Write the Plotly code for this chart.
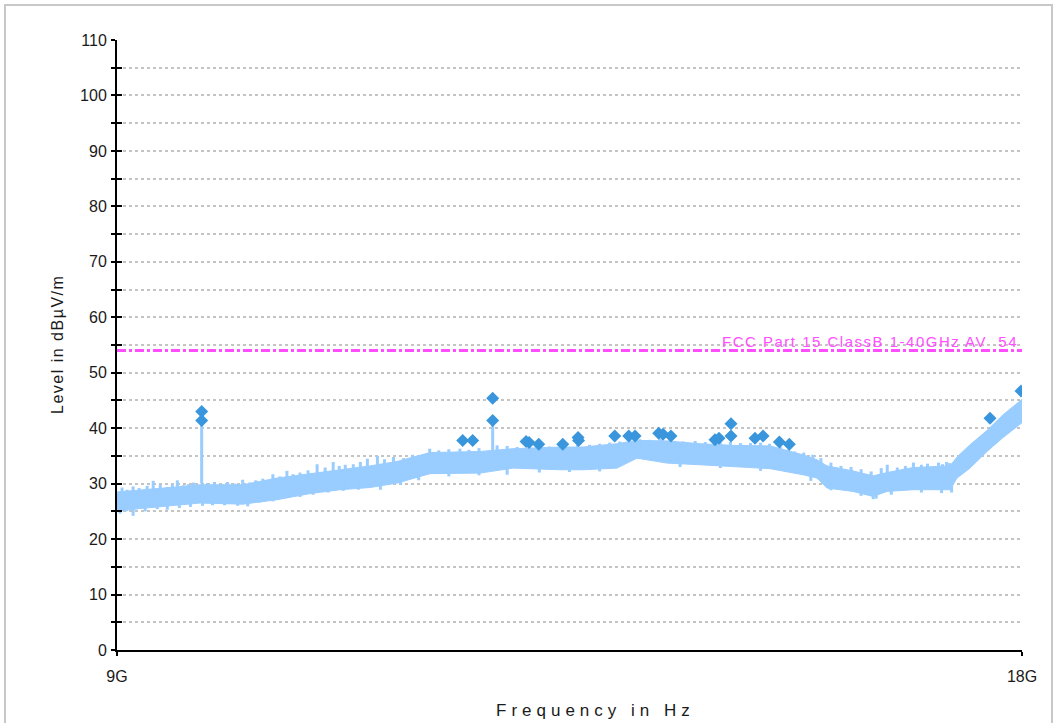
import plotly.graph_objects as go

# ---------------- data ----------------
band_freq_ghz = [9.000, 9.229, 9.527, 9.825, 10.253, 10.591, 10.919, 11.218, 11.516, 11.785,
                 12.113, 12.610, 12.938, 13.406, 13.634, 13.972, 14.171, 14.470, 14.798, 15.126,
                 15.494, 15.822, 15.961, 16.061, 16.319, 16.518, 16.658, 16.916, 17.284, 17.354,
                 17.483, 17.652, 17.811, 18.000]
band_upper = [28.5, 28.8, 29.3, 29.8, 29.8, 31.0, 31.8, 32.6, 33.2, 34.0,
              35.6, 35.8, 36.3, 36.6, 36.6, 37.2, 37.8, 37.7, 37.2, 36.9,
              36.8, 35.2, 34.3, 33.2, 32.3, 31.4, 32.0, 32.9, 33.2, 34.8,
              37.0, 39.6, 42.4, 45.2]
band_lower = [25.0, 25.5, 26.0, 26.5, 26.3, 27.1, 28.2, 28.9, 29.3, 30.1,
              31.8, 31.9, 32.8, 32.5, 32.5, 32.8, 34.6, 33.7, 33.4, 33.1,
              32.7, 31.6, 31.0, 29.2, 28.6, 27.7, 28.6, 28.9, 28.9, 31.0,
              32.8, 35.8, 38.3, 41.0]

# noise spikes sticking out of the top of the band
spike_freq_ghz = [9.05, 9.10, 9.16, 9.22, 9.30, 9.36, 9.43, 9.50, 9.55, 9.60,
                  9.66, 9.71, 9.76, 9.90, 9.97, 10.04, 10.10, 10.17, 10.25, 10.32,
                  10.38, 10.45, 10.55, 10.62, 10.69, 10.75, 10.82, 10.90, 10.99, 11.07,
                  11.15, 11.21, 11.27, 11.35, 11.42, 11.49, 11.59, 11.66, 11.75, 11.85,
                  11.94, 12.02, 12.11, 12.20, 12.30, 12.41, 12.50, 12.60, 12.78, 12.88,
                  12.98, 13.10, 13.21, 13.30, 13.45, 13.58, 13.70, 13.80, 13.90, 14.00,
                  14.10, 14.20, 14.30, 14.40, 14.50, 14.63, 14.75, 14.85, 15.00, 15.10,
                  15.20, 15.30, 15.40, 15.49, 15.60, 15.68, 15.74, 15.83, 15.92, 16.00,
                  16.10, 16.20, 16.30, 16.40, 16.50, 16.60, 16.66, 16.76, 16.84, 16.92,
                  17.00, 17.06, 17.12, 17.17, 17.21, 17.25, 17.28]
spike_top = [29.3, 28.9, 29.5, 29.2, 29.6, 30.5, 29.8, 29.4, 29.9, 30.6,
             29.7, 29.9, 30.2, 30.1, 30.3, 29.9, 30.3, 30.0, 30.7, 30.2,
             30.6, 30.9, 31.7, 31.3, 32.3, 31.7, 32.0, 32.4, 33.5, 32.9,
             33.9, 33.2, 33.4, 33.5, 33.9, 34.5, 35.0, 34.4, 34.8, 34.6,
             35.2, 35.0, 36.3, 36.0, 36.2, 36.3, 36.1, 36.4, 36.9, 36.8,
             36.6, 36.8, 36.9, 36.7, 36.9, 37.0, 37.0, 37.2, 37.4, 37.6,
             37.8, 38.0, 37.9, 38.1, 37.9, 37.6, 37.7, 37.5, 37.4, 37.5,
             37.3, 37.3, 37.4, 37.2, 36.6, 36.2, 35.8, 35.6, 35.2, 34.6,
             33.8, 33.2, 33.0, 32.6, 32.2, 32.8, 33.4, 32.9, 33.2, 33.8,
             33.4, 33.6, 32.6, 33.8, 33.5, 33.9, 33.7]
spike_base = [27.5, 27.5, 27.8, 27.8, 28.0, 28.2, 28.2, 28.3, 28.4, 28.5,
              28.6, 28.7, 28.8, 28.9, 28.9, 28.9, 28.9, 28.9, 28.9, 29.0,
              29.3, 29.5, 30.0, 30.2, 30.5, 30.7, 30.9, 31.0, 31.3, 31.5,
              31.7, 31.8, 32.0, 32.2, 32.4, 32.5, 32.8, 33.0, 33.2, 33.4,
              33.8, 34.2, 34.5, 34.7, 34.8, 34.8, 34.9, 35.0, 35.2, 35.3,
              35.4, 35.5, 35.6, 35.6, 35.7, 35.7, 35.7, 35.9, 36.1, 36.3,
              36.6, 36.7, 36.8, 36.8, 36.6, 36.4, 36.2, 36.1, 36.0, 35.9,
              35.8, 35.8, 35.8, 35.7, 35.2, 34.7, 34.4, 34.1, 33.4, 32.6,
              31.9, 31.4, 31.2, 30.8, 30.5, 30.8, 31.1, 31.5, 31.8, 32.0,
              32.1, 32.2, 32.2, 32.2, 32.2, 32.3, 32.3]

# noise dips below the bottom of the band
dip_freq_ghz = [9.03, 9.09, 9.16, 9.28, 9.40, 9.50, 9.62, 9.73, 9.85, 9.95,
                10.07, 10.20, 10.30, 10.42, 10.55, 10.70, 10.82, 10.95, 11.10, 11.25,
                11.40, 11.62, 11.82, 12.00, 12.30, 12.60, 12.88, 13.20, 13.50, 13.80,
                14.60, 15.00, 15.40, 15.90, 16.10, 16.40, 16.52, 16.55, 16.70, 17.00,
                17.20, 17.30]
dip_bottom = [24.6, 25.0, 24.2, 25.0, 25.4, 25.3, 25.6, 25.8, 26.0, 26.1,
              26.1, 26.0, 25.9, 26.6, 26.8, 27.4, 27.6, 28.0, 28.4, 28.7,
              28.9, 28.9, 29.8, 30.6, 31.3, 31.5, 31.6, 32.0, 32.1, 32.2,
              33.0, 32.8, 32.3, 30.5, 28.8, 27.8, 27.2, 27.3, 28.0, 28.4,
              28.3, 28.4]
dip_top = [26.5, 26.8, 26.8, 27.0, 27.3, 27.5, 27.8, 28.0, 28.2, 28.2,
           28.2, 28.2, 28.3, 28.6, 29.0, 29.5, 29.8, 30.2, 30.6, 31.0,
           31.2, 31.3, 32.0, 32.8, 33.3, 33.5, 33.8, 34.0, 34.0, 34.2,
           35.0, 34.8, 34.5, 32.5, 31.0, 29.8, 29.3, 29.3, 30.0, 30.5,
           30.5, 30.5]

peak_freq_ghz = [9.842, 9.842, 12.438, 12.537, 12.736, 12.736, 13.068, 13.098, 13.194, 13.433,
                 13.585, 13.590, 13.950, 14.089, 14.152, 14.387, 14.430, 14.509, 14.947, 14.987,
                 15.106, 15.106, 15.345, 15.425, 15.587, 15.686, 17.682, 17.990]
peak_level = [43.0, 41.4, 37.8, 37.8, 45.4, 41.4, 37.6, 37.4, 37.1, 37.1,
              38.3, 37.8, 38.6, 38.6, 38.6, 39.1, 38.9, 38.6, 37.9, 38.2,
              40.8, 38.6, 38.2, 38.6, 37.5, 37.1, 41.8, 46.7]

stem_freq_ghz = [9.842, 12.736]
stem_base = [30.0, 36.0]
stem_top = [41.4, 41.4]

limit_value = 54
limit_label = "FCC Part 15 ClassB 1-40GHz AV  54"

x_tick_vals_ghz = [9, 18]
x_tick_text = ["9G", "18G"]
y_range = [0, 110]

# ---------------- figure ----------------
G = 1e9
BAND = "#99ccff"
MARK = "#3a96dc"
MAG = "#ff4dff"
TXT = "#1a1a1a"
FONT = "Liberation Sans, Arial, sans-serif"

fig = go.Figure()

fig.add_trace(go.Scatter(x=[f * G for f in band_freq_ghz], y=band_lower, mode="lines",
                         line=dict(color=BAND, width=1), hoverinfo="skip", showlegend=False))
fig.add_trace(go.Scatter(x=[f * G for f in band_freq_ghz], y=band_upper, mode="lines",
                         line=dict(color=BAND, width=1), fill="tonexty", fillcolor=BAND,
                         hoverinfo="skip", showlegend=False))

def segs(xs, y0s, y1s):
    X, Y = [], []
    for x, a, b in zip(xs, y0s, y1s):
        X += [x * G, x * G, None]
        Y += [a, b, None]
    return X, Y

sx, sy = segs(spike_freq_ghz, spike_base, spike_top)
fig.add_trace(go.Scatter(x=sx, y=sy, mode="lines", line=dict(color=BAND, width=3),
                         showlegend=False, hoverinfo="skip"))
dx, dy = segs(dip_freq_ghz, dip_top, dip_bottom)
fig.add_trace(go.Scatter(x=dx, y=dy, mode="lines", line=dict(color=BAND, width=3),
                         showlegend=False, hoverinfo="skip"))
tx, ty = segs(stem_freq_ghz, stem_base, stem_top)
fig.add_trace(go.Scatter(x=tx, y=ty, mode="lines", line=dict(color=BAND, width=3),
                         showlegend=False, hoverinfo="skip"))

fig.add_trace(go.Scatter(x=[band_freq_ghz[0] * G, band_freq_ghz[-1] * G], y=[limit_value, limit_value],
                         mode="lines", line=dict(color=MAG, width=3, dash="9px,3px,3px,3px"),
                         showlegend=False, hoverinfo="skip"))

fig.add_trace(go.Scatter(x=[f * G for f in peak_freq_ghz], y=peak_level, mode="markers",
                         marker=dict(symbol="diamond", size=10, color=MARK), showlegend=False))

W, H = 1057, 723
L, R, T, B = 117, W - 1022, 40, H - 650
pw, ph = W - L - R, H - T - B

grid = dict(showgrid=True, gridcolor="#c4c4c4", gridwidth=1.5, griddash="dot")
tickfont = dict(family=FONT, size=16, color=TXT)

fig.update_layout(
    width=W, height=H,
    margin=dict(l=L, r=R, t=T, b=B),
    paper_bgcolor="white", plot_bgcolor="white",
    font=dict(family=FONT, size=16, color=TXT),
    xaxis=dict(range=[9 * G, 18 * G], tickvals=[v * G for v in x_tick_vals_ghz], ticktext=x_tick_text,
               ticks="outside", ticklen=4, tickwidth=2, tickcolor="black", tickfont=tickfont,
               showline=True, linecolor="black", linewidth=2, zeroline=False,
               ticklabelstandoff=7, **grid),
    yaxis=dict(range=y_range, dtick=10, tick0=0, ticks="outside", ticklen=4, tickwidth=2,
               tickcolor="black", tickfont=tickfont, showline=True, linecolor="black", linewidth=2,
               zeroline=False, ticklabelstandoff=1,
               minor=dict(dtick=5, ticks="outside", ticklen=4, tickwidth=2, tickcolor="black",
                          showgrid=True, gridcolor="#c4c4c4", gridwidth=1.5, griddash="dot"),
               **grid),
    xaxis2=dict(overlaying="x", range=[9 * G, 18 * G], tickvals=[v * G for v in x_tick_vals_ghz],
                ticks="inside", ticklen=5, tickwidth=2, tickcolor="black", showticklabels=False,
                showgrid=False, zeroline=False, side="bottom"),
    yaxis2=dict(overlaying="y", range=y_range, dtick=10, tick0=0, ticks="inside", ticklen=5,
                tickwidth=2, tickcolor="black", showticklabels=False, showgrid=False,
                zeroline=False, side="left",
                minor=dict(dtick=5, ticks="inside", ticklen=5, tickwidth=2, tickcolor="black")),
)

fig.add_trace(go.Scatter(x=[9 * G], y=[0], xaxis="x2", yaxis="y2", mode="markers",
                         marker=dict(opacity=0), showlegend=False, hoverinfo="skip"))

fig.add_annotation(x=18 * G, y=limit_value, xref="x", yref="y", xanchor="right", yanchor="bottom",
                   xshift=-2, yshift=-1, showarrow=False,
                   text='<span style="letter-spacing:1.5px">' + limit_label + "</span>",
                   font=dict(family=FONT, size=15, color=MAG))

fig.add_annotation(x=(595 - L) / pw, y=(650 - 710) / ph, xref="paper", yref="paper",
                   xanchor="center", yanchor="middle", showarrow=False,
                   text='<span style="letter-spacing:5px">Frequency in Hz</span>',
                   font=dict(family=FONT, size=17, color=TXT))
fig.add_annotation(x=(57 - L) / pw, y=(650 - 345) / ph, xref="paper", yref="paper",
                   xanchor="center", yanchor="middle", showarrow=False, textangle=-90,
                   text='<span style="letter-spacing:1.5px">Level in dBµV/m</span>',
                   font=dict(family=FONT, size=16, color=TXT))

fig.add_shape(type="rect", xref="paper", yref="paper",
              x0=(5 - L) / pw, x1=(1052 - L) / pw, y0=(650 - 740) / ph, y1=(650 - 5) / ph,
              line=dict(color="#c8c8c8", width=2), fillcolor="rgba(0,0,0,0)", layer="below")

fig.write_html("out.html")
